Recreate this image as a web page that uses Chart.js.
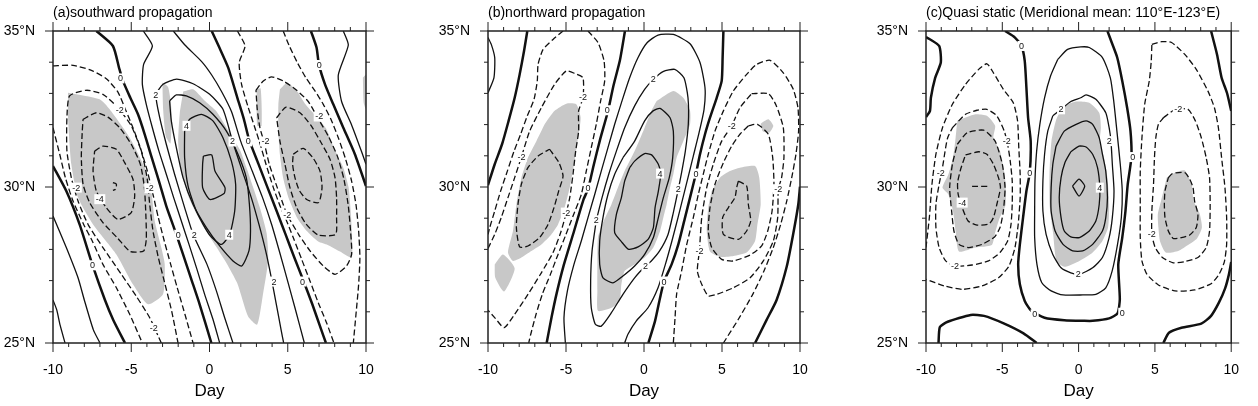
<!DOCTYPE html>
<html>
<head>
<meta charset="utf-8">
<script src="https://cdn.jsdelivr.net/npm/chart.js@4.4.1/dist/chart.umd.min.js"></script>
<style>
  body { margin: 0; background: #fff; width: 1258px; height: 406px; position: relative; overflow: hidden; }
  canvas { position: absolute; top: 0; }
</style>
</head>
<body>
<canvas id="panelA" width="420" height="406" style="left:0px"></canvas>
<canvas id="panelB" width="420" height="406" style="left:420px"></canvas>
<canvas id="panelC" width="418" height="406" style="left:840px"></canvas>
<script>
// axis ticks
const dayTicks = [-10, -5, 0, 5, 10];
const latTicks = [25, 30, 35];

// ---- (a) southward propagation : [day, lat] ----
const aZero1 = [[-10,30.67],[-9.15,29.87],[-8.3,28.8],[-7.49,27.52],[-6.68,26.38],[-6.15,25.74],[-5.4,25]];
const aZero2 = [[-7.23,35],[-6.17,34.52],[-5.78,33.82],[-5.53,33.4],[-5.06,32.86],[-4.57,32.33],[-4.14,31.69],[-3.72,30.99],[-3.23,30.19],[-2.76,29.39],[-2.23,28.64],[-1.69,27.84],[-1.16,27.04],[-0.63,26.24],[0.12,25]];
const aZero3 = [[0.14,35],[0.63,34.47],[1.2,33.82],[1.78,32.86],[2.2,32.17],[2.54,31.5],[3.12,30.75],[3.71,29.98],[4.29,29.23],[4.86,28.48],[5.42,27.74],[5.99,27.01],[6.57,26.24],[7.06,25.54],[7.44,25]];
const aZero4 = [[6.48,35],[6.84,34.47],[6.99,33.93],[7.38,33.29],[7.91,32.65],[8.55,31.9],[9.29,31.05],[10,30.03]];
const aPosA = [[-10,29.07],[-9.15,28.06],[-8.4,27.09],[-8,26.38],[-7.42,25.42],[-7,25]];
const aPosB = [[-10,26.38],[-9.76,26.06],[-9.55,25.58],[-9.23,25]];
const aPos1L = [[-4.23,35],[-3.65,34.52],[-4.21,33.93],[-4.29,33.29],[-4.04,32.65],[-3.65,31.9],[-3.23,31.15],[-2.76,30.41],[-2.29,29.66],[-1.8,28.91],[-1.31,28.16],[-0.8,27.36],[-0.31,26.56],[0.22,25.76],[0.65,25]];
const aPos1R = [[-2.31,35],[-1.57,34.55],[-0.5,34.02],[0.14,33.59],[0.77,33.06],[1.41,32.41],[1.99,31.47],[2.73,30.51],[3.39,29.66],[3.97,28.8],[4.46,27.95],[4.99,26.99],[5.46,26.13],[6.06,25]];
const aPos2 = [[1.5,25],[0.97,25.81],[0.44,26.67],[-0.16,27.52],[-1.03,28.46],[-1.59,29.34],[-2.23,30.41],[-2.76,31.37],[-3.18,32.22],[-3.42,32.95],[-2.97,33.29],[-2.1,33.46],[-1.05,33.31],[0.01,32.97],[0.86,32.49],[1.48,31.45],[2.1,30.51],[2.67,29.66],[3.16,28.8],[3.59,27.95],[3.95,27.09],[4.27,26.24],[4.59,25.38],[4.74,25]];
const aPos3 = [[-2.55,32.76],[-2.12,32.95],[-1.48,32.92],[-0.63,32.7],[0.22,32.33],[1.08,31.79],[1.82,31.05],[2.35,30.3],[2.55,29.44],[2.62,28.59],[2.52,27.95],[2.06,27.47],[1.5,27.63],[0.65,28.11],[-0.2,28.7],[-1.05,29.44],[-1.69,30.3],[-2.12,31.26],[-2.44,32.12],[-2.55,32.76]];
const aPos4 = [[-1.59,31.79],[-1.27,32.17],[-0.52,32.33],[0.22,32.12],[0.86,31.58],[1.4,30.83],[1.67,30.09],[1.61,29.23],[1.29,28.48],[0.76,28.16],[0.01,28.46],[-0.8,29.18],[-1.37,30.03],[-1.59,30.94],[-1.59,31.79]];
const aPos5 = [[-0.39,30.99],[0.14,31.03],[0.35,30.51],[0.99,29.98],[0.93,29.79],[0.03,29.6],[-0.44,29.98],[-0.44,30.73],[-0.39,30.99]];
const aPosE = [[8.55,35],[8.87,34.55],[8.23,33.59],[8.44,32.74],[9.08,31.99],[9.72,31.13],[10,30.73]];
const aNeg1T = [[-10,33.88],[-8.72,33.9],[-7.55,33.74],[-6.59,33.47],[-5.85,33.04],[-5.36,32.47],[-4.89,31.9],[-4.42,31.26],[-3.97,30.51],[-3.61,29.76],[-3.27,29.02],[-2.89,28.27],[-2.48,27.52],[-2.06,26.77],[-1.57,25.92],[-1.05,25]];
const aNeg1L = [[-10,31.9],[-9.57,31.05],[-9.21,30.3],[-8.72,29.55],[-8.04,28.8],[-7.49,28.27],[-6.81,27.52],[-5.95,26.77],[-5.1,25.92],[-4.29,25]];
const aNeg2 = [[-3.08,25],[-3.82,25.81],[-4.68,26.5],[-5.63,27.2],[-6.81,28.06],[-7.76,28.8],[-8.4,29.55],[-8.83,30.3],[-9.11,31.15],[-9.11,32.22],[-8.94,32.92],[-7.87,33.1],[-6.81,32.97],[-5.85,32.54],[-5,31.96],[-4.36,31.15],[-3.99,30.3],[-3.82,29.44],[-3.61,28.59],[-3.27,27.74],[-2.84,26.88],[-2.42,26.03],[-2.01,25]];
const aNeg3 = [[-8.08,32.17],[-7.23,32.38],[-6.49,32.24],[-5.74,31.9],[-5,31.37],[-4.42,30.73],[-4.16,29.98],[-4.06,29.02],[-4.04,28.32],[-4.21,27.95],[-5.06,27.93],[-5.85,28.35],[-6.81,28.86],[-7.66,29.5],[-8.08,30.09],[-8.19,30.94],[-8.13,31.79],[-8.08,32.17]];
const aNeg4 = [[-7.34,31.15],[-6.81,31.31],[-5.95,31.21],[-5.42,30.78],[-4.89,30.25],[-4.78,29.71],[-5,29.18],[-5.85,28.96],[-6.6,29.34],[-7.23,29.87],[-7.44,30.51],[-7.34,31.15]];
const aNeg5 = [[-6.17,30.14],[-5.95,30.09],[-6,29.93],[-6.17,29.89]];
const aNegR1L = [[1.78,35],[2.27,34.52],[1.9,33.99],[2.05,33.29],[2.48,32.54],[2.9,31.9],[3.18,31.47],[3.61,30.73],[4.08,29.98],[4.55,29.34],[4.89,28.96],[5.35,28.38],[5.89,27.68],[6.42,26.99],[6.95,26.29],[7.48,25.65],[7.95,25]];
const aNegR1R = [[4.71,35],[5.1,34.52],[5.61,33.99],[6.16,33.5],[6.74,33.08],[7.27,32.65],[7.76,32.17],[8.23,31.58],[8.7,30.89],[9.08,30.19],[9.36,29.44],[9.53,28.59],[9.61,27.74],[9.53,26.88],[9.36,25.92],[9.19,25]];
const aNegR2 = [[2.97,33.1],[3.44,33.4],[3.97,33.53],[4.71,33.4],[5.57,33.1],[6.31,32.74],[6.89,32.24],[7.59,31.63],[8.17,30.99],[8.59,30.25],[8.87,29.39],[9.02,28.54],[9.08,27.84],[8.76,27.47],[8.02,27.2],[7.27,27.47],[6.46,27.93],[5.72,28.46],[4.97,29.1],[4.71,29.44],[4.33,29.98],[3.82,30.73],[3.48,31.45],[3.22,31.9],[3.05,32.49],[2.97,33.1]];
const aNegR3 = [[4.29,32.22],[4.89,32.56],[5.78,32.38],[6.46,31.99],[7.1,31.45],[7.7,30.89],[8.02,30.3],[8.12,29.66],[8.12,29.02],[8.06,28.48],[6.95,28.46],[6.16,28.82],[5.57,29.34],[5.14,29.98],[4.82,30.73],[4.5,31.47],[4.29,32.22]];
const aNegR4 = [[5.35,31.05],[5.99,31.24],[6.63,30.92],[7.06,30.51],[7.19,29.98],[6.97,29.5],[6.21,29.6],[5.74,29.89],[5.46,30.3],[5.31,30.73],[5.35,31.05]];
const aShade1 = [[-9.04,33.02],[-7.02,32.81],[-6.38,32.49],[-5.1,31.58],[-4.14,30.62],[-3.72,29.87],[-3.5,28.91],[-3.08,28.06],[-2.86,27.52],[-2.97,26.56],[-3.93,26.24],[-4.89,26.88],[-5.95,27.84],[-7.44,28.8],[-8.4,29.66],[-8.83,30.73],[-9.04,32.22]];
const aShade2 = [[-1.68,33.06],[-1.04,33.13],[-0.36,32.79],[0.45,32.42],[1.3,31.72],[1.94,31.19],[2.41,30.55],[2.84,29.91],[3.26,29.27],[3.65,28.52],[3.75,27.67],[3.43,26.6],[3.05,25.59],[2.47,25.85],[1.77,26.92],[1.09,27.56],[0.41,28.1],[-0.41,28.74],[-1.26,29.59],[-1.79,30.44],[-2,31.4],[-1.9,32.36]];
const aShade3 = [[-3.01,33.35],[-2.64,33.2],[-2.43,32.47],[-2.49,31.4],[-2.79,31.62],[-2.96,32.47]];
const aShade4 = [[4.5,33.13],[4.97,33.34],[5.61,33.06],[6.1,32.67],[6.74,32.31],[7.44,31.88],[7.95,31.26],[8.55,30.62],[8.89,29.98],[9.02,29.23],[9.1,28.48],[9.08,27.74],[8.34,27.93],[7.55,28.14],[6.95,28.25],[6.25,28.57],[5.61,29],[5.06,29.64],[4.71,30.28],[4.5,31.03],[4.4,31.77],[4.4,32.63]];
const aShade5 = [[3.01,33.13],[3.27,33.16],[3.33,31.96],[3.05,31.96]];
const aShade6 = [[9.8,33.5],[10,33.6],[10,32.5],[9.85,32.7]];
const aLabels = [[-5.69,33.48,'0'],[-3.43,32.95,'2'],[-5.74,32.47,'-2'],[-1.47,31.96,'4'],[1.47,31.46,'2'],[2.47,31.46,'0'],[3.58,31.46,'-2'],[7.01,33.91,'0'],[7.01,32.26,'-2'],[-8.51,29.98,'-2'],[-7.01,29.61,'-4'],[-3.82,29.96,'-2'],[4.97,29.11,'-2'],[-2,28.47,'0'],[-0.98,28.47,'2'],[1.26,28.47,'4'],[-7.48,27.49,'0'],[4.12,26.97,'2'],[5.95,26.97,'0'],[-3.56,25.48,'-2']];

// ---- (b) northward propagation ----
const bZero1 = [[-7.48,35],[-7.69,34.36],[-7.97,33.61],[-8.29,32.86],[-8.68,32.12],[-9.1,31.37],[-9.57,30.73],[-10,30.06]];
const bZero2 = [[-6.24,25],[-5.92,25.84],[-5.6,26.59],[-5.17,27.45],[-4.53,28.51],[-3.89,29.58],[-3.57,29.96],[-3.25,30.65],[-2.82,31.51],[-2.29,32.47],[-1.97,33.22],[-1.54,34.07],[-1.22,35]];
const bZero3 = [[0.28,25],[0.71,25.71],[1.03,26.45],[1.28,26.97],[1.77,27.52],[2.2,28.16],[2.63,29.02],[2.95,29.66],[3.33,30.43],[3.59,31.05],[3.91,31.69],[4.23,32.22],[4.66,32.86],[4.98,33.4],[5.04,34.15],[5.09,35]];
const bZero4 = [[7.12,25],[7.86,25.74],[8.5,26.38],[9.15,27.45],[9.57,28.51],[9.89,29.44],[10,30.01]];
const bPosC = [[-10,34.79],[-9.79,34.57],[-9.57,34.15],[-9.62,33.5],[-10,33.02]];
const bPos1 = [[-5.04,25],[-5.13,25.81],[-4.91,26.67],[-4.49,27.52],[-4.02,28.27],[-3.59,29.02],[-3.16,29.76],[-2.74,30.51],[-2.31,31.26],[-1.88,32.01],[-1.41,32.76],[-0.92,33.5],[-0.38,34.15],[0.21,34.63],[0.9,34.87],[1.88,34.89],[2.95,34.59],[3.59,33.99],[3.91,33.18],[3.85,32.49],[3.53,31.74],[3.16,30.99],[2.82,30.3],[2.5,29.66],[2.18,29.02],[1.79,28.27],[1.37,27.52],[0.9,26.77],[0.26,26.13],[-0.49,25.71],[-1.03,25.28],[-1.24,25]];
const bPos2 = [[-3.06,28.93],[-2.69,29.66],[-2.26,30.41],[-1.77,31.15],[-1.24,31.9],[-0.6,32.6],[0.04,33.13],[0.6,33.45],[1.22,33.7],[1.97,33.77],[2.56,33.5],[2.82,32.86],[2.84,32.01],[2.65,31.15],[2.39,30.41],[2.2,29.93],[1.88,29.18],[1.54,28.48],[1,27.95],[0.47,27.63],[0.09,27.47],[-0.6,27.09],[-1.35,26.56],[-2.09,25.97],[-2.74,25.54],[-3.12,25.6],[-3.38,26.13],[-3.42,26.99],[-3.33,27.95],[-3.06,28.93]];
const bPos3 = [[-1.35,30.94],[-0.6,31.47],[0.04,32.12],[0.58,32.44],[1.03,32.52],[1.67,32.22],[1.88,31.79],[1.84,30.94],[1.62,30.3],[1.24,29.66],[0.92,29.02],[0.6,28.38],[0.04,27.84],[-0.6,27.47],[-1.35,27.15],[-1.99,26.93],[-2.63,27.09],[-2.84,27.52],[-2.84,28.27],[-2.63,29.02],[-2.31,29.76],[-1.88,30.41],[-1.35,30.94]];
const bPos4 = [[-0.92,30.62],[-0.6,30.83],[0.04,31.07],[0.49,31.03],[0.92,30.73],[1.07,30.41],[0.92,29.87],[0.71,29.34],[0.6,28.7],[0.26,28.32],[-0.38,28.08],[-0.98,28],[-1.45,28.25],[-1.88,28.54],[-1.77,29.12],[-1.45,29.66],[-1.24,30.19],[-0.92,30.62]];
const bNeg1L = [[-5.19,35],[-5.83,34.73],[-6.47,34.41],[-6.79,33.93],[-6.84,33.4],[-7.05,32.81],[-7.48,32.28],[-7.91,31.69],[-8.33,31.15],[-8.76,30.51],[-9.19,29.87],[-9.57,29.23],[-9.89,28.7],[-10,28.48]];
const bNeg1R = [[-3.59,35],[-2.95,34.63],[-2.56,34.04],[-2.52,33.4],[-2.78,32.76],[-3.06,32.01],[-3.38,31.26],[-3.7,30.51],[-4.02,29.76],[-4.55,29.07],[-5.04,28.43],[-5.51,27.84],[-6,27.2],[-6.52,26.56],[-6.92,25.92],[-7.26,25.28],[-7.39,25]];
const bNeg2 = [[-10,28.03],[-9.57,28.48],[-9.15,29.02],[-8.72,29.66],[-8.29,30.3],[-7.86,30.96],[-7.33,31.79],[-6.58,32.54],[-5.73,33.29],[-4.98,33.72],[-4.4,33.63],[-3.91,33.5],[-3.91,32.86],[-4.19,32.44],[-4.19,31.79],[-4.38,31.15],[-4.55,30.41],[-4.76,29.66],[-4.98,29.18],[-5.34,28.54],[-5.83,27.9],[-6.58,27.25],[-7.44,26.56],[-8.29,25.92],[-8.97,25.49],[-9.53,25.79],[-10,26.05]];
const bNeg3 = [[-6.05,31.21],[-5.45,30.78],[-5.19,30.35],[-5.47,29.87],[-5.77,29.34],[-6.15,28.8],[-6.69,28.38],[-7.44,28.11],[-7.97,28.08],[-8.18,28.7],[-8.08,29.44],[-7.86,30.09],[-7.44,30.62],[-6.79,30.99],[-6.05,31.21]];
const bNegR1 = [[1.88,25],[1.99,25.81],[2.09,26.56],[2.41,27.31],[2.74,28.16],[3.16,29.02],[3.48,29.76],[3.8,30.41],[4.12,31.05],[4.55,31.79],[5.09,32.44],[5.73,33.08],[6.58,33.61],[7.22,33.93],[8.08,34.06],[8.93,33.66],[9.57,33.13],[9.87,32.54],[9.91,31.79],[9.74,31.05],[9.47,30.3],[9.15,29.55],[8.76,28.8],[8.29,28.06],[7.69,27.31],[6.97,26.56],[6.05,25.76],[5.09,25]];
const bNegR2 = [[6.9,32.99],[7.97,32.99],[8.46,32.63],[8.93,31.9],[8.97,30.94],[8.82,30.3],[8.61,29.93],[8.57,29.02],[8.29,28.27],[7.65,27.63],[6.8,27.09],[5.73,26.77],[4.66,26.56],[4.12,26.51],[3.7,26.88],[3.42,27.31],[3.55,27.95],[3.7,29.02],[4.02,29.98],[4.44,30.73],[4.98,31.47],[5.62,31.96],[6.15,32.54],[6.9,32.99]];
const bNegR3 = [[6.69,31.96],[7.27,32.01],[7.97,31.69],[8.25,30.94],[8.33,30.09],[8.21,29.23],[7.93,28.59],[7.54,28.11],[6.8,27.82],[5.73,27.63],[4.98,27.68],[4.34,28.06],[4.12,28.59],[4.23,29.34],[4.55,30.09],[5.09,30.78],[5.62,31.31],[6.15,31.69],[6.69,31.96]];
const bNegR4 = [[6.05,30.19],[6.58,30.03],[6.69,29.44],[6.84,28.91],[6.58,28.59],[6.05,28.32],[5.09,28.48],[5.04,29.02],[5.41,29.34],[5.83,29.66],[5.94,29.98],[6.05,30.19]];
const bShade1 = [[-6.37,32.01],[-5.73,32.44],[-4.98,32.67],[-4.34,32.65],[-4.06,32.22],[-4.23,31.58],[-4.49,30.73],[-4.76,29.98],[-5.09,29.34],[-5.51,28.8],[-5.94,28.48],[-6.58,28.16],[-7.22,27.95],[-7.86,27.74],[-8.4,27.63],[-8.72,27.9],[-8.4,28.59],[-8.18,29.44],[-7.86,30.3],[-7.44,30.94],[-6.9,31.47]];
const bShade2 = [[-9.57,27.52],[-9.04,27.84],[-8.29,27.39],[-8.97,26.65],[-9.53,27.09]];
const bShade3 = [[0.81,32.76],[1.88,33.08],[2.52,32.86],[2.95,32.44],[2.95,32.01],[2.52,31.47],[2.09,30.94],[1.88,30.41],[1.67,29.98],[1.45,29.44],[1.24,29.02],[1.03,28.59],[0.6,28.06],[0.04,27.74],[-0.6,27.52],[-1.24,27.31],[-1.45,26.88],[-1.56,26.35],[-2.09,26.13],[-2.95,26.03],[-2.99,26.67],[-2.99,27.52],[-2.95,28.38],[-2.63,28.86],[-2.09,29.44],[-1.67,29.98],[-1.24,30.51],[-0.6,31.15],[0.04,31.9],[0.47,32.44]];
const bShade4 = [[4.34,29.87],[4.87,30.3],[5.51,30.51],[6.15,30.62],[7.12,30.67],[7.39,30.3],[7.48,29.44],[7.27,28.8],[7.12,28.27],[6.58,27.9],[5.73,27.79],[4.87,27.76],[4.23,27.93],[4.02,28.59],[4.12,29.34]];
const bShade5 = [[7.48,32.03],[7.97,32.17],[8.29,31.96],[8.03,31.74],[7.61,31.79]];
const bLabels = [[-3.91,32.88,'-2'],[-2.35,32.46,'0'],[-7.86,30.96,'-2'],[-3.59,29.98,'0'],[-4.98,29.18,'-2'],[-3.06,28.93,'2'],[0.09,27.47,'2'],[0.6,33.45,'2'],[5.62,31.96,'-2'],[1.03,30.43,'4'],[3.33,30.43,'0'],[2.2,29.93,'2'],[8.61,29.93,'-2'],[3.55,27.95,'-2'],[1.28,26.97,'0']];

// ---- (c) quasi static ----
const cZero1 = [[-10,34.81],[-9.14,34.52],[-9.03,33.99],[-9.4,33.5],[-9.68,32.86],[-9.74,32.44],[-10,32.24]];
const cZero2 = [[-4.82,35],[-4.17,34.79],[-3.74,34.52],[-3.53,34.04],[-3.42,33.18],[-3.31,32.22],[-3.14,31.47],[-3.2,30.46],[-3.42,29.87],[-3.64,29.02],[-3.85,28.16],[-3.96,27.52],[-3.85,26.88],[-3.53,26.35],[-3.1,26.03],[-2.23,25.81],[-0.94,25.73],[0.36,25.71],[0.92,25.71],[2,25.79],[2.55,25.95],[2.7,26.4],[2.6,27.52],[2.86,28.38],[3.07,29.23],[3.22,30.09],[3.46,30.96],[3.4,31.79],[3.18,32.54],[2.86,33.4],[2.53,34.15],[2.17,34.63],[1.89,35]];
const cZero3 = [[-9.18,25],[-9.09,25.51],[-8.58,25.68],[-7.07,25.9],[-6.2,25.87],[-4.91,25.63],[-3.61,25.31],[-2.75,25]];
const cZero4 = [[5.55,25],[5.92,25.33],[6.74,25.49],[8.04,25.62],[8.68,25.87],[9.2,26.3],[9.6,26.75],[9.85,27.2],[10,27.6]];
const cZero5 = [[8.68,35],[9.07,34.25],[9.37,33.5],[9.72,33.02],[10,32.44]];
const cPos1 = [[-1.37,34.09],[-0.72,34.41],[0.14,34.49],[0.7,34.47],[1.56,34.15],[2.08,33.5],[2.3,32.76],[2.51,31.79],[2.73,30.73],[2.86,29.87],[2.8,29.02],[2.55,28.16],[2.2,27.31],[1.78,26.77],[1.13,26.56],[0.27,26.54],[-1.02,26.54],[-1.8,26.67],[-2.41,26.93],[-2.73,27.52],[-2.88,28.38],[-2.88,29.23],[-2.86,30.19],[-2.75,31.15],[-2.54,32.01],[-2.23,32.86],[-1.84,33.56],[-1.37,34.09]];
const cPos2 = [[-1.69,32.28],[-1.15,32.49],[-0.51,32.74],[0.14,32.86],[0.49,32.95],[1.13,32.81],[1.78,32.38],[2,31.9],[2.12,31.47],[2.21,30.73],[2.32,29.87],[2.21,29.02],[2,28.38],[1.56,27.74],[0.92,27.41],[0.05,27.2],[-0.51,27.25],[-1.15,27.41],[-1.69,27.84],[-2.13,28.48],[-2.34,29.23],[-2.34,30.19],[-2.23,31.05],[-2.02,31.79],[-1.69,32.28]];
const cPos3 = [[-1.48,31.31],[-0.94,31.79],[-0.16,32.01],[0.49,32.12],[0.92,32.01],[1.35,31.58],[1.56,31.05],[1.78,30.51],[1.89,29.66],[1.78,29.02],[1.56,28.59],[0.92,28.16],[0.27,27.95],[-0.39,27.95],[-1.02,28.16],[-1.54,28.59],[-1.8,29.23],[-1.8,29.98],[-1.69,30.73],[-1.48,31.31]];
const cPos4 = [[-0.51,31.13],[0.03,31.31],[0.49,31.28],[0.92,31.05],[1.24,30.62],[1.39,29.98],[1.35,29.44],[1.13,28.91],[0.7,28.59],[0.05,28.38],[-0.51,28.4],[-0.94,28.59],[-1.15,29.02],[-1.27,29.66],[-1.15,30.3],[-0.9,30.78],[-0.51,31.13]];
const cPos5 = [[-0.4,30.03],[0.03,30.25],[0.4,30.03],[0.03,29.71],[-0.4,30.03]];
const cNeg1 = [[-10,28.06],[-9.78,29.02],[-9.61,30.09],[-9.35,31.05],[-8.92,31.9],[-8.27,32.65],[-7.41,33.29],[-6.55,33.77],[-6.01,33.95],[-5.58,33.66],[-4.93,33.13],[-4.28,32.7],[-4,32.12],[-3.92,31.26],[-3.83,30.41],[-3.83,29.66],[-3.96,28.8],[-4.17,28.06],[-4.56,27.47],[-5.25,27.09],[-6.33,26.83],[-7.63,26.72],[-8.81,26.83],[-10,27.04]];
const cNeg2 = [[-8.27,31.9],[-7.41,32.33],[-6.66,32.46],[-6.01,32.49],[-5.36,32.28],[-4.87,31.79],[-4.65,31.37],[-4.48,30.83],[-4.35,30.19],[-4.35,29.44],[-4.43,28.8],[-4.65,28.27],[-5.15,27.9],[-5.9,27.63],[-6.98,27.5],[-8.1,27.47],[-8.71,27.63],[-9.14,28.06],[-9.35,28.7],[-9.35,29.44],[-9.14,30.09],[-8.92,30.62],[-8.75,31.15],[-8.58,31.58],[-8.27,31.9]];
const cNeg3 = [[-7.95,31.37],[-7.3,31.74],[-6.22,31.82],[-5.47,31.47],[-5,30.73],[-4.82,29.98],[-4.93,29.23],[-5.15,28.7],[-5.51,28.4],[-6.33,28.16],[-7.2,28.06],[-7.84,28.16],[-8.17,28.59],[-8.32,29.23],[-8.45,29.98],[-8.27,30.73],[-7.95,31.37]];
const cNeg4 = [[-7.41,31.03],[-6.55,31.13],[-6.01,31.05],[-5.58,30.73],[-5.25,30.3],[-5.12,29.98],[-5.36,29.44],[-5.58,29.02],[-5.86,28.82],[-6.66,28.78],[-7.24,28.91],[-7.63,29.34],[-7.89,29.76],[-7.93,30.14],[-7.73,30.57],[-7.41,31.03]];
const cNeg5 = [[-6.98,30.02],[-5.94,30.02]];
const cNegR1 = [[4.8,34.57],[5.45,34.66],[6.09,34.63],[6.96,34.25],[7.71,33.77],[8.47,33.08],[8.9,32.54],[9.16,31.9],[9.37,30.94],[9.59,29.98],[9.7,29.02],[9.7,28.16],[9.55,27.6],[9.2,27.2],[8.68,26.9],[7.6,26.7],[6.31,26.67],[5.23,26.86],[4.48,27.2],[4.15,27.63],[4.04,28.38],[4.04,29.44],[4.04,30.51],[4.15,31.58],[4.33,32.65],[4.63,33.4],[4.76,34.04],[4.8,34.57]];
const cNegR2 = [[5.56,32.22],[6.31,32.48],[7.17,32.49],[7.65,32.12],[8.04,31.58],[8.36,30.94],[8.58,30.3],[8.62,29.44],[8.58,28.59],[8.36,28.06],[7.82,27.74],[6.96,27.61],[6.2,27.57],[5.49,27.74],[5.02,28.06],[4.8,28.48],[4.8,29.23],[4.91,30.09],[4.97,30.94],[5.06,31.58],[5.23,32.01],[5.56,32.22]];
const cNegR3 = [[5.88,30.3],[6.14,30.43],[6.96,30.46],[7.28,30.25],[7.5,29.98],[7.6,29.55],[7.82,29.12],[7.71,28.7],[7.28,28.46],[6.74,28.38],[6.2,28.35],[5.88,28.59],[5.66,29.02],[5.62,29.44],[5.66,29.87],[5.88,30.3]];
const cShade1 = [[-7.95,32.12],[-6.76,32.33],[-6.01,32.28],[-5.47,31.96],[-5.58,31.58],[-5.15,31.15],[-4.82,30.3],[-4.78,29.44],[-5.21,28.96],[-5.47,28.54],[-5.69,28.14],[-6.76,28.06],[-7.84,27.93],[-8.06,28.59],[-8.23,29.23],[-8.53,29.76],[-8.92,29.98],[-8.53,30.41],[-8.23,30.94],[-8.06,31.58]];
const cShade2 = [[-1.02,32.6],[-0.16,32.74],[0.7,32.7],[1.35,32.38],[1.46,31.9],[1.39,31.47],[1.67,30.94],[1.89,30.3],[2,29.44],[1.93,28.7],[1.56,28.27],[0.92,27.9],[0.05,27.63],[-0.94,27.44],[-1.46,27.65],[-1.67,28.51],[-1.89,29.37],[-1.91,30.41],[-1.78,31.47],[-1.46,32.17]];
const cShade3 = [[5.77,30.3],[6.31,30.46],[6.96,30.53],[7.22,30.3],[7.43,30.03],[7.54,29.55],[7.93,29.15],[8.08,28.7],[7.76,28.35],[7.17,28.14],[6.53,27.95],[5.71,27.9],[5.34,28.25],[5.23,28.7],[5.19,29.12],[5.4,29.55],[5.62,29.98]];
const cLabels = [[-3.74,34.52,'0'],[-1.15,32.49,'2'],[-4.71,31.47,'-2'],[-9.03,30.46,'-2'],[-3.2,30.46,'0'],[-7.63,29.5,'-4'],[-8.1,27.47,'-2'],[-0.03,27.2,'2'],[-2.88,25.92,'0'],[6.53,32.49,'-2'],[2,31.47,'2'],[3.55,30.96,'0'],[1.39,29.98,'4'],[4.8,28.48,'-2'],[2.86,25.97,'0']];

const FONT = '"Liberation Sans", Arial, Helvetica, sans-serif';
Chart.defaults.font.family = FONT;
Chart.defaults.color = '#000';

function toPoints(arr) {
    return arr.map(p => ({ x: p[0], y: p[1] }));
}

function contour(arr, kind) {
    var width = kind === 'zero' ? 2.5 : 1.3;
    return {
        data: toPoints(arr),
        showLine: true,
        pointRadius: 0,
        borderColor: '#111',
        borderWidth: width,
        borderDash: kind === 'neg' ? [6, 3] : [],
        fill: false,
        tension: 0.2,
        order: 1
    };
}

function shade(arr) {
    return {
        data: toPoints(arr.concat([arr[0]])),
        showLine: true,
        pointRadius: 0,
        borderWidth: 0,
        borderColor: 'rgba(0,0,0,0)',
        backgroundColor: '#c8c8c8',
        fill: 'shape',
        tension: 0.2,
        order: 5
    };
}

// frame, outward tick marks, contour labels and panel title
const decor = {
    id: 'decor',
    afterDatasetsDraw(chart, args, opts) {
        const ctx = chart.ctx, a = chart.chartArea;
        const xs = chart.scales.x, ys = chart.scales.y;
        ctx.save();

        ctx.font = '9px ' + FONT;
        ctx.textAlign = 'center';
        ctx.textBaseline = 'middle';
        opts.labels.forEach(function (lb) {
            const px = xs.getPixelForValue(lb[0]), py = ys.getPixelForValue(lb[1]);
            const w = ctx.measureText(lb[2]).width + 3;
            ctx.fillStyle = '#fff';
            ctx.fillRect(px - w / 2, py - 5, w, 10);
            ctx.fillStyle = '#111';
            ctx.fillText(lb[2], px, py + 0.5);
        });

        ctx.strokeStyle = '#222';
        ctx.lineWidth = 1.5;
        ctx.strokeRect(a.left, a.top, a.right - a.left, a.bottom - a.top);

        ctx.lineWidth = 1;
        ctx.beginPath();
        for (let d = -10; d <= 10; d++) {
            const px = xs.getPixelForValue(d), len = d % 5 === 0 ? 9 : 4;
            ctx.moveTo(px, a.bottom); ctx.lineTo(px, a.bottom + len);
            ctx.moveTo(px, a.top); ctx.lineTo(px, a.top - len);
        }
        for (let l = 25; l <= 35; l++) {
            const py = ys.getPixelForValue(l), len = l % 5 === 0 ? 8 : 4;
            ctx.moveTo(a.left, py); ctx.lineTo(a.left - len, py);
            ctx.moveTo(a.right, py); ctx.lineTo(a.right + len, py);
        }
        ctx.stroke();

        ctx.font = '14px ' + FONT;
        ctx.textAlign = 'left';
        ctx.fillStyle = '#000';
        ctx.fillText(opts.title, a.left, a.top - 18);
        ctx.restore();
    }
};

function makePanel(id, title, set, axisWidth, padRight) {
    const datasets = [];
    set.zero.forEach(l => datasets.push(contour(l, 'zero')));
    set.pos.forEach(l => datasets.push(contour(l, 'pos')));
    set.neg.forEach(l => datasets.push(contour(l, 'neg')));
    set.shade.forEach(s => datasets.push(shade(s)));

    return new Chart(document.getElementById(id).getContext('2d'), {
        type: 'scatter',
        data: { datasets: datasets },
        options: {
            responsive: false,
            animation: false,
            layout: { padding: { top: 31, right: padRight, left: 0, bottom: 0 } },
            plugins: {
                legend: { display: false },
                tooltip: { enabled: false },
                decor: { labels: set.labels, title: title }
            },
            scales: {
                x: {
                    type: 'linear', min: -10, max: 10,
                    afterBuildTicks: s => { s.ticks = dayTicks.map(v => ({ value: v })); },
                    afterFit: s => { s.height = 63; },
                    grid: { display: false, drawTicks: false },
                    border: { display: false },
                    ticks: { padding: 19, font: { size: 14 }, color: '#000', maxRotation: 0, autoSkip: false },
                    title: { display: true, text: 'Day', font: { size: 17 }, color: '#000', padding: { top: 0, bottom: 4 } }
                },
                y: {
                    type: 'linear', min: 25, max: 35,
                    afterBuildTicks: s => { s.ticks = latTicks.map(v => ({ value: v })); },
                    afterFit: s => { s.width = axisWidth; },
                    grid: { display: false, drawTicks: false },
                    border: { display: false },
                    ticks: { padding: 18, font: { size: 14 }, color: '#000', callback: v => v + '°N' }
                }
            }
        },
        plugins: [decor]
    });
}

makePanel('panelA', '(a)southward propagation', {
    zero: [aZero1, aZero2, aZero3, aZero4],
    pos: [aPosA, aPosB, aPos1L, aPos1R, aPos2, aPos3, aPos4, aPos5, aPosE],
    neg: [aNeg1T, aNeg1L, aNeg2, aNeg3, aNeg4, aNeg5, aNegR1L, aNegR1R, aNegR2, aNegR3, aNegR4],
    shade: [aShade1, aShade2, aShade3, aShade4, aShade5, aShade6],
    labels: aLabels
}, 53, 54);

makePanel('panelB', '(b)northward propagation', {
    zero: [bZero1, bZero2, bZero3, bZero4],
    pos: [bPosC, bPos1, bPos2, bPos3, bPos4],
    neg: [bNeg1L, bNeg1R, bNeg2, bNeg3, bNegR1, bNegR2, bNegR3, bNegR4],
    shade: [bShade1, bShade2, bShade3, bShade4, bShade5],
    labels: bLabels
}, 68, 40);

makePanel('panelC', '(c)Quasi static (Meridional mean: 110°E-123°E)', {
    zero: [cZero1, cZero2, cZero3, cZero4, cZero5],
    pos: [cPos1, cPos2, cPos3, cPos4, cPos5],
    neg: [cNeg1, cNeg2, cNeg3, cNeg4, cNeg5, cNegR1, cNegR2, cNegR3],
    shade: [cShade1, cShade2, cShade3],
    labels: cLabels
}, 86, 23);
</script>
</body>
</html>
